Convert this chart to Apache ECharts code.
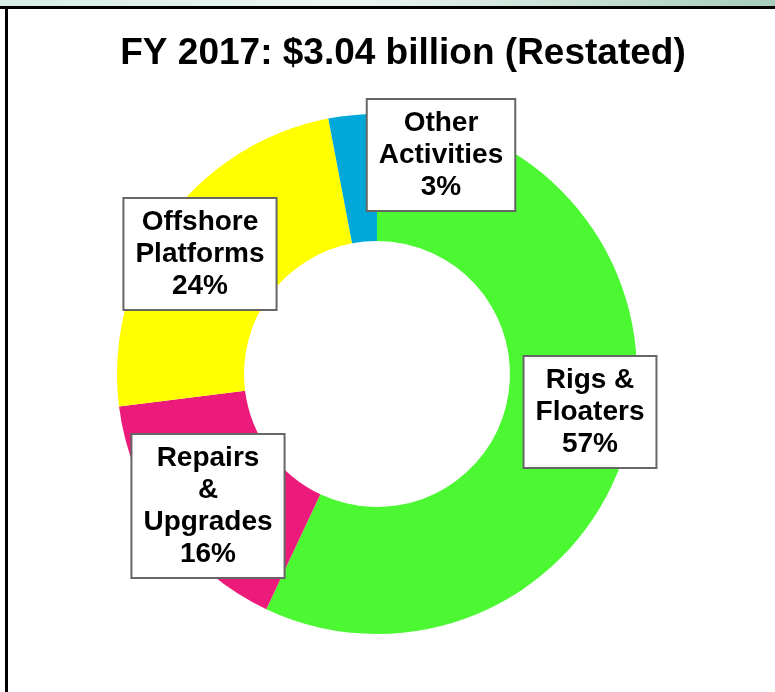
<!DOCTYPE html>
<html>
<head>
<meta charset="utf-8">
<script src="https://cdn.jsdelivr.net/npm/echarts@6/dist/echarts.min.js"></script>
<style>
  html, body { margin: 0; padding: 0; background: #fff; }
  #wrap { position: relative; width: 775px; height: 692px; overflow: hidden; }
  #chart { position: absolute; left: 0; top: 0; width: 775px; height: 692px; }
  #strip { position: absolute; left: 0; top: 0; width: 775px; height: 6px;
    background: linear-gradient(to right, #d6eee4, #eef6f2 45%, #a6cdbb 100%); }
  #topline { position: absolute; left: 0; top: 6px; width: 775px; height: 3px; background: #000; }
  #leftline { position: absolute; left: 5px; top: 6px; width: 3px; height: 686px; background: #000; }
</style>
</head>
<body>
<div id="wrap">
  <div id="chart"></div>
  <div id="strip"></div>
  <div id="topline"></div>
  <div id="leftline"></div>
</div>
<script>
// 各板块收入占比 (顺时针, 从12点开始)
var categories = ['Rigs &\nFloaters', 'Repairs\n&\nUpgrades', 'Offshore\nPlatforms', 'Other\nActivities'];
var shares = [57, 16, 24, 3];
var colors = ['#4bf832', '#ec1a7b', '#ffff00', '#00a8da'];
// 标签框中心位置
var labelPos = [[590, 412], [208, 506], [200, 254], [441, 155]];

var myChart = echarts.init(document.getElementById('chart'));

var pieData = [];
for (var i = 0; i < categories.length; i++) {
  pieData.push({ name: categories[i], value: shares[i], itemStyle: { color: colors[i] } });
}

myChart.setOption({
  animation: false,
  title: {
    text: 'FY 2017: $3.04 billion (Restated)',
    left: 398,
    top: 30,
    textAlign: 'center',
    textStyle: {
      fontFamily: 'Liberation Sans, Arial, sans-serif',
      fontSize: 37,
      fontWeight: 'bold',
      color: '#000'
    }
  },
  series: [{
    type: 'pie',
    center: [377, 374],
    radius: [133, 260],
    startAngle: 90,
    clockwise: true,
    silent: true,
    itemStyle: { borderWidth: 0 },
    label: {
      show: true,
      position: 'inside',
      formatter: function (p) { return p.name + '\n' + p.value + '%'; },
      fontFamily: 'Liberation Sans, Arial, sans-serif',
      fontSize: 28,
      fontWeight: 'bold',
      lineHeight: 32,
      color: '#000',
      align: 'center',
      backgroundColor: '#fff',
      borderColor: '#666',
      borderWidth: 2,
      padding: [7, 11]
    },
    labelLine: { show: false },
    labelLayout: function (params) {
      var p = labelPos[params.dataIndex];
      return { x: p[0], y: p[1], align: 'center', verticalAlign: 'middle' };
    },
    data: pieData
  }]
});
</script>
</body>
</html>
